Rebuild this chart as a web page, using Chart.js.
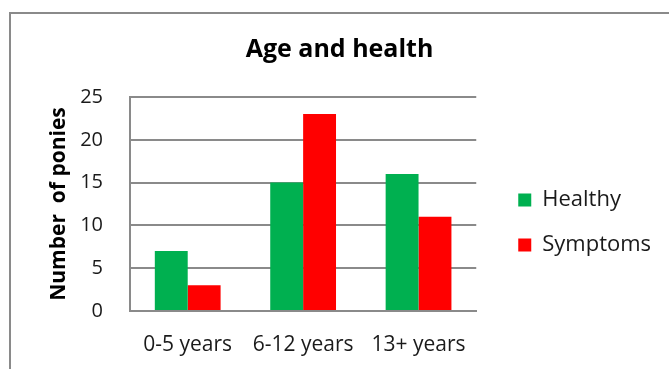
<!DOCTYPE html>
<html>
<head>
<meta charset="utf-8">
<script src="https://cdn.jsdelivr.net/npm/chart.js@4/dist/chart.umd.min.js"></script>
<style>
  html, body { margin: 0; padding: 0; background: #fff; overflow: hidden; }
  #frame {
    position: absolute; left: 9px; top: 12px; width: 700px; height: 400px;
    border-left: 2px solid #8a8a8a; border-top: 2px solid #8a8a8a;
  }
  #ponyChart { position: absolute; left: 0; top: 0; }
</style>
</head>
<body>
<div id="frame"></div>
<canvas id="ponyChart" width="669" height="369"></canvas>
<script>
const ageGroups = ['0-5 years', '6-12 years', '13+ years'];
const healthy = [7, 15, 16];
const symptoms = [3, 23, 11];
const yTicks = [0, 5, 10, 15, 20, 25];

const gridGray = '#8a8a8a';
const textColor = '#1a1a1a';
const fontFamily = '"Open Sans", sans-serif';

// move legend and title a little, the way the spreadsheet placed them
const boxNudge = {
    id: 'boxNudge',
    afterLayout(chart) {
        const lg = chart.legend;
        lg.left += 19; lg.right += 19;
        lg.top += 18.5; lg.bottom += 18.5;
        const tb = chart.titleBlock;
        tb.left += 22; tb.right += 22;
    }
};

const ctx = document.getElementById('ponyChart').getContext('2d');
const ponyChart = new Chart(ctx, {
    type: 'bar',
    data: {
        labels: ageGroups,
        datasets: [
            { label: 'Healthy', data: healthy, backgroundColor: '#00b050' },
            { label: 'Symptoms', data: symptoms, backgroundColor: '#ff0000' }
        ]
    },
    options: {
        responsive: false,
        animation: false,
        datasets: {
            bar: { categoryPercentage: 0.57, barPercentage: 1.0, borderWidth: 0 }
        },
        layout: { padding: { left: 0, right: 34, top: 0, bottom: 12 } },
        plugins: {
            title: {
                display: true,
                text: 'Age and health',
                color: '#000',
                font: { family: fontFamily, size: 25, weight: 'bold' },
                padding: { top: 35, bottom: 32 }
            },
            legend: {
                position: 'right',
                fullSize: false,
                labels: {
                    color: textColor,
                    font: { family: fontFamily, size: 22 },
                    boxWidth: 13,
                    boxHeight: 13,
                    padding: 23
                }
            },
            tooltip: { enabled: false }
        },
        scales: {
            x: {
                afterFit: (scale) => { scale.height = 46; },
                grid: { display: false, drawTicks: false },
                border: { display: true, color: gridGray, width: 2 },
                ticks: {
                    color: textColor,
                    font: { family: fontFamily, size: 21 },
                    padding: 21,
                    maxRotation: 0
                }
            },
            y: {
                min: 0,
                max: 25,
                afterBuildTicks: (scale) => { scale.ticks = yTicks.map(v => ({ value: v })); },
                afterFit: (scale) => { scale.width = 130; },
                grid: { color: gridGray, lineWidth: 2, drawTicks: false },
                border: { display: true, color: gridGray, width: 2 },
                ticks: {
                    color: textColor,
                    font: { family: fontFamily, size: 20 },
                    padding: 27
                },
                title: {
                    display: true,
                    text: 'Number  of ponies',
                    color: '#000',
                    font: { family: fontFamily, size: 21, weight: 'bold' },
                    padding: { top: 46, bottom: 0 }
                }
            }
        }
    },
    plugins: [boxNudge]
});
</script>
</body>
</html>
